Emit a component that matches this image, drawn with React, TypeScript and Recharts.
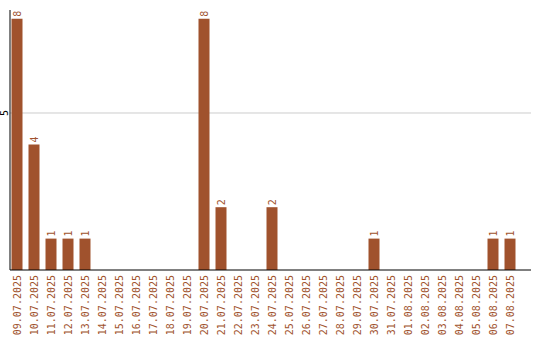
import { BarChart, Bar, XAxis, YAxis, CartesianGrid, LabelList } from "recharts";

// Daily counts, 09.07.2025 – 07.08.2025
const days = [
  "09.07.2025", "10.07.2025", "11.07.2025", "12.07.2025", "13.07.2025",
  "14.07.2025", "15.07.2025", "16.07.2025", "17.07.2025", "18.07.2025",
  "19.07.2025", "20.07.2025", "21.07.2025", "22.07.2025", "23.07.2025",
  "24.07.2025", "25.07.2025", "26.07.2025", "27.07.2025", "28.07.2025",
  "29.07.2025", "30.07.2025", "31.07.2025", "01.08.2025", "02.08.2025",
  "03.08.2025", "04.08.2025", "05.08.2025", "06.08.2025", "07.08.2025",
];
const counts = [
  8, 4, 1, 1, 1, 0, 0, 0, 0, 0,
  0, 8, 2, 0, 0, 2, 0, 0, 0, 0,
  0, 1, 0, 0, 0, 0, 0, 0, 1, 1,
];
const yTicks = [5];

const BROWN = "#a0522d";
const FONT = "'DejaVu Sans Mono', monospace";

const data = days.map((day, i) => ({ day, count: counts[i] }));

function DayTick({ x, payload }: any) {
  // date labels read bottom-to-top, hanging just below the axis line
  const ty = 275;
  return (
    <text
      x={x}
      y={ty}
      transform={`rotate(-90 ${x} ${ty})`}
      dy={4}
      textAnchor="end"
      fill={BROWN}
      fontSize={10}
      fontFamily={FONT}
    >
      {payload.value}
    </text>
  );
}

function CountTick({ y, payload }: any) {
  const cx = 5;
  return (
    <text
      x={cx}
      y={y}
      transform={`rotate(-90 ${cx} ${y})`}
      dy={3}
      textAnchor="middle"
      fill="#000"
      fontSize={10}
      fontFamily={FONT}
    >
      {payload.value}
    </text>
  );
}

function ValueLabel({ x, y, width, value }: any) {
  if (!value) return null;
  const cx = x + width / 2;
  const ty = y - 2;
  return (
    <text
      x={cx}
      y={ty}
      transform={`rotate(-90 ${cx} ${ty})`}
      dy={4}
      textAnchor="start"
      fill={BROWN}
      fontSize={10}
      fontFamily={FONT}
    >
      {value}
    </text>
  );
}

export default function App() {
  return (
    <div style={{ position: "absolute", left: 0, top: 0, background: "#fff" }}>
      <BarChart
        width={540}
        height={340}
        data={data}
        margin={{ top: 10, right: 9, left: 0, bottom: 0 }}
        barCategoryGap={3}
      >
        <CartesianGrid stroke="#cccccc" vertical={false} horizontalValues={yTicks} />
        <XAxis
          dataKey="day"
          interval={0}
          height={70}
          padding={{ left: -1.5, right: 12.5 }}
          stroke="#000"
          tickLine={false}
          tick={<DayTick />}
        />
        <YAxis
          width={10}
          domain={[0, 8.28]}
          ticks={yTicks}
          stroke="#000"
          tickLine={false}
          tick={<CountTick />}
        />
        <Bar dataKey="count" fill={BROWN} isAnimationActive={false}>
          <LabelList dataKey="count" content={<ValueLabel />} />
        </Bar>
      </BarChart>
    </div>
  );
}
